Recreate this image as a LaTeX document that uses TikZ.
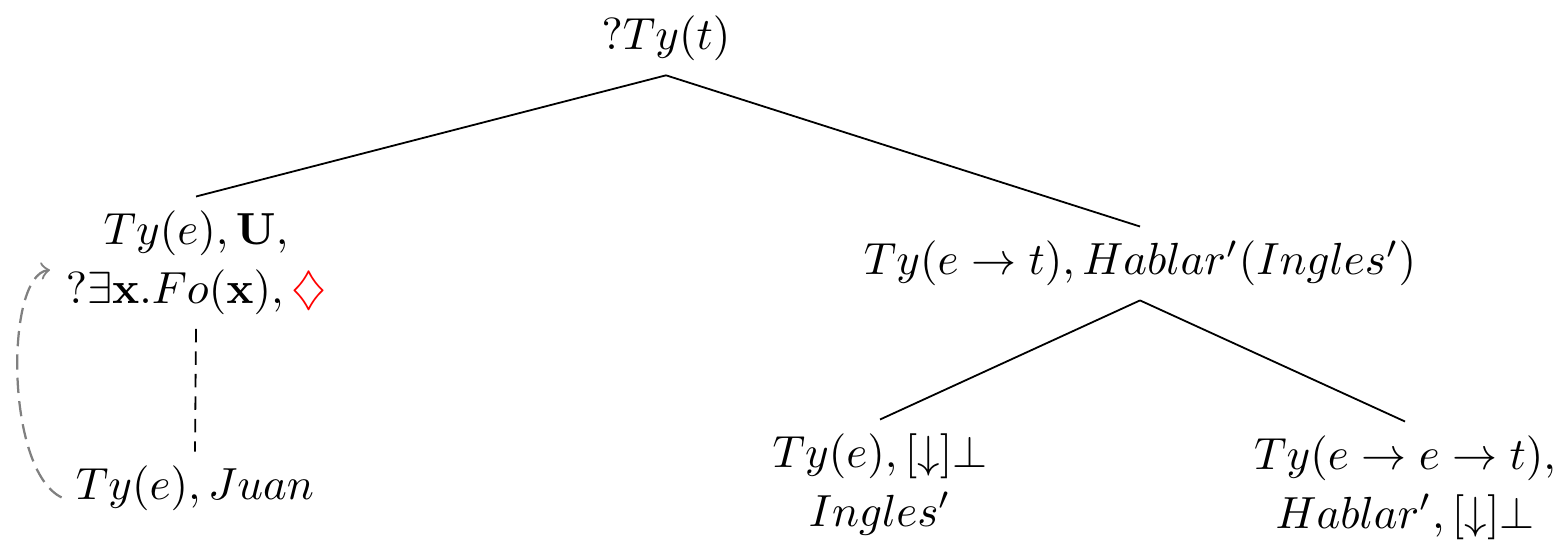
\documentclass[tikz,border=0pt]{standalone}
\usepackage{amssymb}
\begin{document}
\begin{tikzpicture}[x=0.2222pt,y=-0.2222pt,
  tn/.style={anchor=north,inner sep=3pt,align=center},
  edge/.style={draw=black,line width=0.4pt},
  link/.style={draw=black,dash pattern=on 3pt off 2pt},
  lift/.style={draw=gray,line width=0.5pt,dash pattern=on 3.4pt off 1.8pt,->}]
\useasboundingbox (0,0) rectangle (1566,539);
\node[tn] (root) at (666,1.5) {$?Ty(t)$};
\node[tn] (left) at (196,196.5) {$Ty(e), \mathbf{U},$\\[1pt] $?\exists \mathbf{x}.Fo(\mathbf{x}), {\color{red}\diamondsuit}$};
\node[tn] (juan) at (195,451.5) {$Ty(e), Juan$};
\node[tn] (right) at (1140,226.5) {$Ty(e \rightarrow t), Hablar'(Ingles')$};
\node[tn] (bl) at (880,419.5) {$Ty(e), [\downarrow]\bot$\\[1pt] $Ingles'$};
\node[tn] (br) at (1405,421.5) {$Ty(e \rightarrow e \rightarrow t),$\\[1pt] $Hablar', [\downarrow]\bot$};
\draw[edge] (root.south) -- (left.north);
\draw[edge] (root.south) -- (right.north);
\draw[edge] (right.south) -- (bl.north);
\draw[edge] (right.south) -- (br.north);
\draw[link] (left.south) -- (juan.north);
\coordinate (liftend) at (50,270);
\draw[lift] ([yshift=-2pt]juan.west) .. controls (5,470) and (5,275) .. (liftend);
\end{tikzpicture}
\end{document}
